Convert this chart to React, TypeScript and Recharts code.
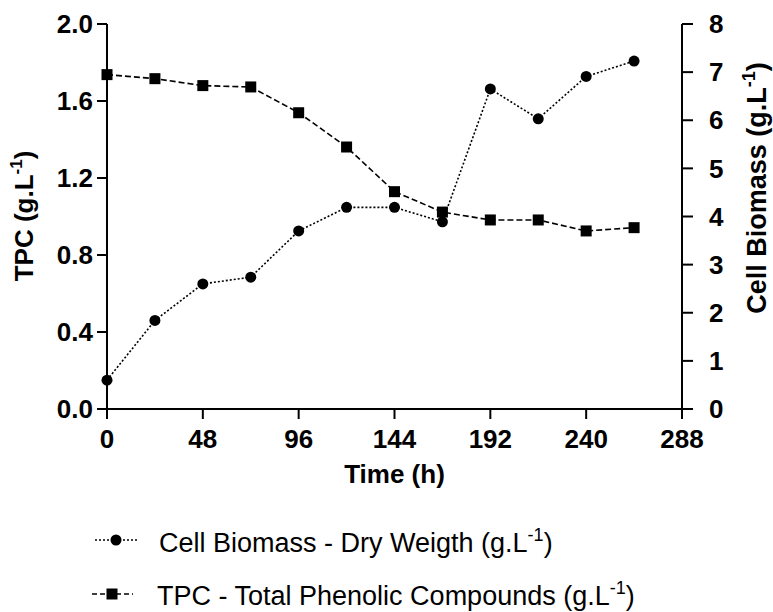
import * as React from "react";
import { LineChart, Line, XAxis, YAxis } from "recharts";

const hours = [0, 24, 48, 72, 96, 120, 144, 168, 192, 216, 240, 264];
const tpc = [1.737, 1.716, 1.68, 1.673, 1.539, 1.361, 1.129, 1.023, 0.982, 0.982, 0.925, 0.942];
const biomass = [0.6, 1.84, 2.6, 2.74, 3.7, 4.19, 4.19, 3.89, 6.65, 6.03, 6.91, 7.23];

const xTicks = [0, 48, 96, 144, 192, 240, 288];
const tpcTicks = [0, 0.4, 0.8, 1.2, 1.6, 2.0];
const biomassTicks = [0, 1, 2, 3, 4, 5, 6, 7, 8];

const FONT = "'Liberation Sans', Arial, sans-serif";

const rows = hours.map((t, i) => ({ time: t, tpc: tpc[i], biomass: biomass[i] }));

const tickStyle = { fill: "#000", fontSize: 26, fontWeight: 700, fontFamily: FONT };
const axisStroke = { stroke: "#000", strokeWidth: 2 };

function Sup({ base, sup, tail, size = 17, lift = 11 }: { base: string; sup: string; tail: string; size?: number; lift?: number }) {
  return (
    <>
      {base}
      <tspan dy={-lift} fontSize={size}>
        {sup}
      </tspan>
      <tspan dy={lift}>{tail}</tspan>
    </>
  );
}

function SquareDot(props: any) {
  const { cx, cy, index } = props;
  if (cx == null || cy == null) return <g key={index} />;
  return <rect key={index} x={cx - 5.5} y={cy - 5.5} width={11} height={11} fill="#000" />;
}

export default function App() {
  return (
    <div style={{ position: "absolute", left: 0, top: 0, width: 773, height: 612, background: "#fff" }}>
      <LineChart width={773} height={612} data={rows} margin={{ top: 24, right: 0, bottom: 0, left: 0 }}>
        <XAxis
          dataKey="time"
          type="number"
          domain={[0, 288]}
          ticks={xTicks}
          interval={0}
          height={203}
          tickSize={10}
          tickMargin={11}
          axisLine={axisStroke}
          tickLine={axisStroke}
          tick={tickStyle}
          label={{
            content: ({ viewBox }: any) => (
              <text
                x={viewBox.x + viewBox.width / 2}
                y={viewBox.y + 74}
                textAnchor="middle"
                fontSize={26}
                fontWeight={700}
                fontFamily={FONT}
                fill="#000"
              >
                Time (h)
              </text>
            ),
          }}
        />
        <YAxis
          yAxisId="left"
          domain={[0, 2]}
          ticks={tpcTicks}
          interval={0}
          width={107}
          tickSize={10}
          tickMargin={4}
          tickFormatter={(v: number) => v.toFixed(1)}
          axisLine={axisStroke}
          tickLine={axisStroke}
          tick={tickStyle}
          label={{
            content: () => (
              <text
                x={33}
                y={216}
                transform="rotate(-90, 33, 216)"
                textAnchor="middle"
                fontSize={26}
                fontWeight={700}
                fontFamily={FONT}
                fill="#000"
              >
                <Sup base="TPC (g.L" sup="-1" tail=")" />
              </text>
            ),
          }}
        />
        <YAxis
          yAxisId="right"
          orientation="right"
          domain={[0, 8]}
          ticks={biomassTicks}
          interval={0}
          width={91}
          tickSize={11}
          tickMargin={16}
          axisLine={axisStroke}
          tickLine={axisStroke}
          tick={tickStyle}
          label={{
            content: () => (
              <text
                x={766}
                y={188}
                transform="rotate(-90, 766, 188)"
                textAnchor="middle"
                fontSize={27}
                fontWeight={700}
                fontFamily={FONT}
                fill="#000"
              >
                <Sup base="Cell Biomass (g.L" sup="-1" tail=")" size={18} />
              </text>
            ),
          }}
        />
        <Line
          yAxisId="left"
          dataKey="tpc"
          type="linear"
          stroke="#000"
          strokeWidth={1.6}
          strokeDasharray="6 3"
          dot={SquareDot}
          activeDot={false}
          isAnimationActive={false}
        />
        <Line
          yAxisId="right"
          dataKey="biomass"
          type="linear"
          stroke="#000"
          strokeWidth={1.6}
          strokeDasharray="2 2"
          dot={{ r: 5.5, fill: "#000", stroke: "none" }}
          activeDot={false}
          isAnimationActive={false}
        />
      </LineChart>
      <svg
        width={773}
        height={612}
        style={{ position: "absolute", left: 0, top: 0, pointerEvents: "none" }}
        fontFamily={FONT}
      >
        <line x1={95} x2={137} y1={540} y2={540} stroke="#000" strokeWidth={1.6} strokeDasharray="2 2" />
        <circle cx={116} cy={540} r={5.5} fill="#000" />
        <text x={159} y={552} fontSize={27} fill="#000">
          <Sup base="Cell Biomass - Dry Weigth (g.L" sup="-1" tail=")" size={18} />
        </text>
        <line x1={92} x2={133} y1={594} y2={594} stroke="#000" strokeWidth={1.6} strokeDasharray="5 3" />
        <rect x={106.5} y={588.5} width={11} height={11} fill="#000" />
        <text x={157} y={605} fontSize={27} fill="#000">
          <Sup base="TPC - Total Phenolic Compounds (g.L" sup="-1" tail=")" size={18} />
        </text>
      </svg>
    </div>
  );
}
